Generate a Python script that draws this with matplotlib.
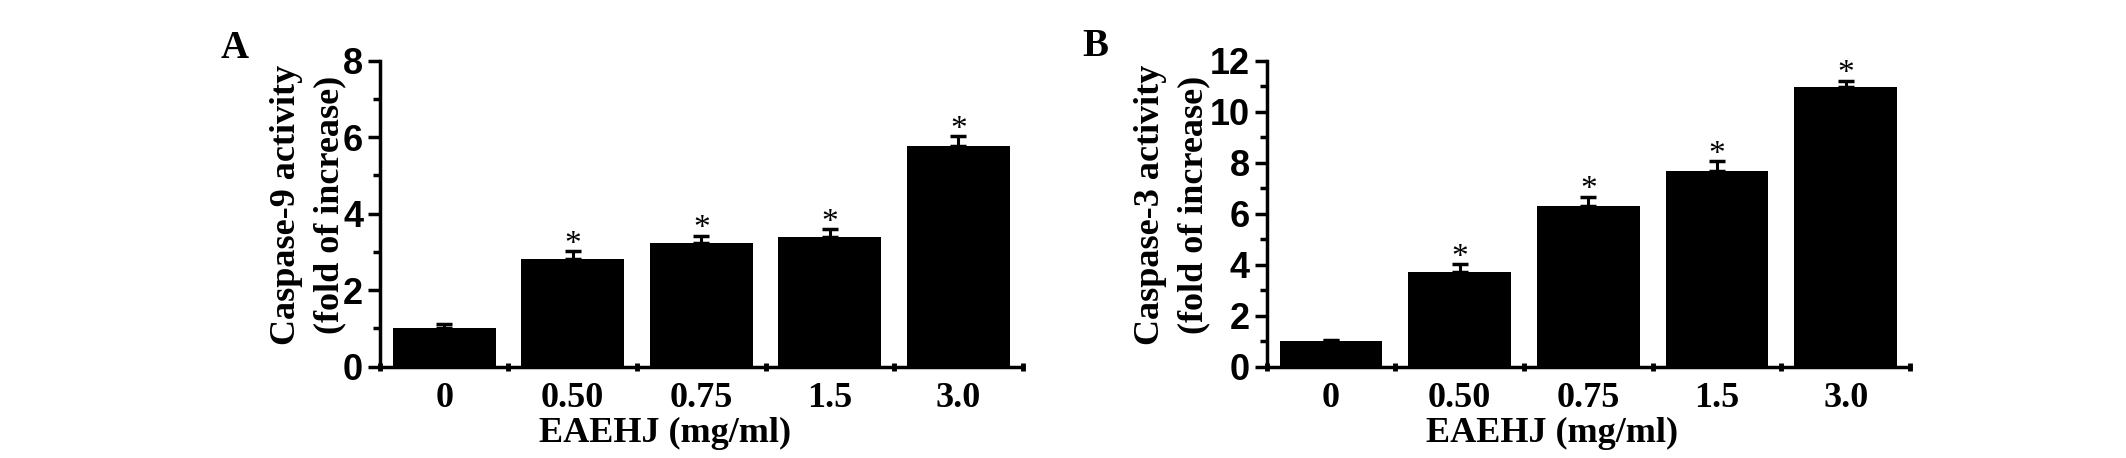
import numpy as np
import matplotlib
matplotlib.use('Agg')
import matplotlib.pyplot as plt
from matplotlib.ticker import MultipleLocator, FixedLocator

##! Data
doses      = ['0', '0.50', '0.75', '1.5', '3.0']
casp9_mean = [1.0, 2.82, 3.23, 3.40, 5.77]
casp9_err  = [0.11, 0.20, 0.19, 0.19, 0.25]
casp3_mean = [1.0, 3.72, 6.31, 7.68, 10.97]
casp3_err  = [0.06, 0.30, 0.36, 0.38, 0.24]
signif     = [False, True, True, True, True]

serif = 'Liberation Serif'
sans  = 'Liberation Sans'

fig = plt.figure(figsize=(21.26, 4.58), dpi=100)


def panel(rect, means, errs, ymax, ymajor, ylab, ylab_x, letter, letter_xy):
    ax = fig.add_axes(rect)
    x = np.arange(len(doses))
    ax.bar(x, means, width=0.8, color='black', zorder=2)
    ax.errorbar(x, means, yerr=[np.zeros(len(errs)), errs], fmt='none',
                ecolor='black', elinewidth=2.2, capsize=6, capthick=2.5, zorder=1)
    for xi, m, e, s in zip(x, means, errs, signif):
        if s:
            ax.annotate('*', (xi, m + e), xytext=(0, -1), textcoords='offset points',
                        ha='center', va='baseline', fontsize=24, family=serif)
    ax.set_xlim(-0.5, len(doses) - 0.5)
    ax.set_ylim(0, ymax)
    for sp in ['top', 'right']:
        ax.spines[sp].set_visible(False)
    for sp in ['left', 'bottom']:
        ax.spines[sp].set_linewidth(2.5)
    # y ticks
    ax.yaxis.set_major_locator(MultipleLocator(ymajor))
    ax.yaxis.set_minor_locator(MultipleLocator(ymajor / 2))
    ax.tick_params(axis='y', which='major', length=9, width=2.5, direction='out',
                   pad=3, labelsize=26, labelfontfamily=sans)
    ax.tick_params(axis='y', which='minor', length=5, width=2.5, direction='out')
    for t in ax.get_yticklabels():
        t.set_fontweight('bold')
    # x ticks: marks at category boundaries, labels at centres
    ax.xaxis.set_major_locator(FixedLocator(np.arange(len(doses) + 1) - 0.5))
    ax.xaxis.set_minor_locator(FixedLocator(x))
    ax.set_xticklabels([])
    ax.set_xticklabels(doses, minor=True, family=serif, fontweight='bold', fontsize=26)
    ax.tick_params(axis='x', which='major', length=6, width=3.5, direction='inout')
    ax.tick_params(axis='x', which='minor', length=0, pad=11)
    ax.set_xlabel('EAEHJ (mg/ml)', family=serif, fontweight='bold', fontsize=26)
    ax.xaxis.set_label_coords(0.443, -0.165)
    ax.set_ylabel(ylab, family=serif, fontweight='bold', fontsize=26,
                  linespacing=1.4)
    ax.yaxis.set_label_coords(ylab_x, 0.53)
    fig.text(letter_xy[0], letter_xy[1], letter, family=serif, fontweight='bold',
             fontsize=28, ha='center', va='center')
    return ax


panel([0.1787, 0.1993, 0.3023, 0.6682], casp9_mean, casp9_err, 8, 2,
      'Caspase-9 activity\n(fold of increase)', -0.052, 'A', (235 / 2126, 1 - 48 / 458))
panel([0.5958, 0.1993, 0.3026, 0.6682], casp3_mean, casp3_err, 12, 2,
      'Caspase-3 activity\n(fold of increase)', -0.088, 'B', (1095 / 2126, 1 - 46 / 458))

fig.savefig('out.png', dpi=100)
